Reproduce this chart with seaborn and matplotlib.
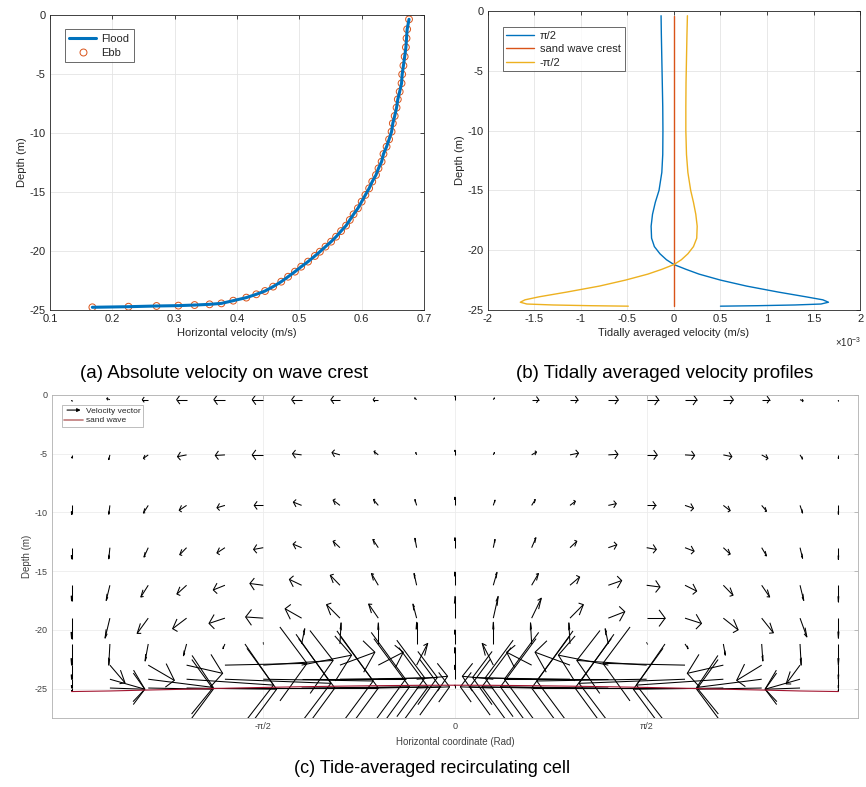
import numpy as np
import pandas as pd
import matplotlib
matplotlib.use("Agg")
import matplotlib.pyplot as plt
import seaborn as sns
from matplotlib.collections import LineCollection
from matplotlib.lines import Line2D
from matplotlib.legend_handler import HandlerBase
from matplotlib.patches import FancyArrowPatch

sns.set_theme(style="white")
plt.rcParams['font.family'] = ['Liberation Sans', 'DejaVu Sans']
plt.rcParams['mathtext.fontset'] = 'custom'
plt.rcParams['mathtext.rm'] = 'Liberation Sans'
plt.rcParams['axes.unicode_minus'] = False

# ---------------- (a) absolute velocity on wave crest ----------------
depth_a = [-0.37, -1.21, -1.98, -2.74, -3.53, -4.29, -5.03, -5.79, -6.50, -7.15,
           -7.85, -8.56, -9.18, -9.89, -10.54, -11.16, -11.78, -12.43, -13.0, -13.56,
           -14.12, -14.69, -15.25, -15.82, -16.38, -16.89, -17.37, -17.85, -18.31, -18.79,
           -19.21, -19.63, -20.06, -20.42, -20.90, -21.33, -21.75, -22.18, -22.60, -23.02,
           -23.39, -23.67, -23.95, -24.21, -24.44, -24.52, -24.58, -24.63, -24.66, -24.72, -24.77]
velocity_a = [0.676, 0.673, 0.672, 0.671, 0.669, 0.667, 0.665, 0.664, 0.661, 0.658,
              0.656, 0.653, 0.650, 0.648, 0.644, 0.640, 0.635, 0.632, 0.627, 0.623,
              0.617, 0.612, 0.606, 0.600, 0.594, 0.587, 0.581, 0.575, 0.567, 0.559,
              0.551, 0.542, 0.533, 0.525, 0.514, 0.503, 0.493, 0.482, 0.471, 0.458,
              0.445, 0.431, 0.415, 0.394, 0.375, 0.356, 0.332, 0.306, 0.271, 0.226, 0.168]
xticks_a = [0.1, 0.2, 0.3, 0.4, 0.5, 0.6, 0.7]
yticks = [-25, -20, -15, -10, -5, 0]

# ---------------- (b) tidally averaged velocity profiles (x 1e-3 m/s) ----------------
depth_b = [-0.4, -2, -4, -6, -8, -10, -12, -13.5, -15, -16, -17, -18, -19, -19.7, -20.3,
           -20.8, -21.2, -21.6, -22, -22.5, -23, -23.5, -23.9, -24.15, -24.35, -24.5,
           -24.58, -24.64, -24.68]
vel_pos_half_pi = [-0.138, -0.135, -0.13, -0.125, -0.12, -0.118, -0.12, -0.13, -0.16, -0.2,
                   -0.23, -0.245, -0.24, -0.21, -0.15, -0.08, 0.0, 0.13, 0.27, 0.5,
                   0.78, 1.12, 1.42, 1.6, 1.66, 1.58, 1.3, 0.9, 0.5]
vel_crest = [0.0] * len(depth_b)
vel_neg_half_pi = [0.145, 0.14, 0.135, 0.13, 0.128, 0.128, 0.135, 0.15, 0.18, 0.21,
                   0.235, 0.25, 0.245, 0.21, 0.15, 0.08, 0.0, -0.13, -0.28, -0.52,
                   -0.8, -1.15, -1.45, -1.6, -1.65, -1.58, -1.3, -0.9, -0.49]
xticks_b = [-2, -1.5, -1, -0.5, 0, 0.5, 1, 1.5, 2]
xticklabels_b = ['-2', '-1.5', '-1', '-0.5', '0', '0.5', '1', '1.5', '2']

# ---------------- (c) tide-averaged recirculating cell ----------------
x_cols = [-135.0, -121.5, -108.0, -94.5, -81.0, -67.5, -54.0, -40.5, -27.0, -13.5, 0.0,
          13.5, 27.0, 40.5, 54.0, 67.5, 81.0, 94.5, 108.0, 121.5, 135.0]
z_rows = [-0.4, -5.1, -9.4, -13.0, -16.2, -19.0, -21.2, -23.0, -24.2, -24.95]
U_rows = [
    [0, -1.1, -2.1, -3.5, -3.9, -3.9, -3.5, -3.2, -1.8, -0.7, 0, 0.4, 2.5, 2.8, 3.5, 4.2, 4.2, 3.5, 2.8, 1.1, 0],
    [0, -0.4, -1.7, -3.2, -3.4, -3.9, -3.2, -2.8, -1.5, -0.3, 0, 0.4, 1.7, 3.0, 3.4, 3.7, 3.4, 3.0, 2.2, 0.9, 0],
    [0, -0.4, -1.7, -2.6, -2.8, -3.2, -2.9, -2.4, -1.7, -0.6, 0, 0.6, 1.3, 1.9, 2.8, 3.2, 3.0, 2.4, 1.7, 0.9, 0],
    [0, -0.4, -1.5, -2.4, -2.8, -3.4, -3.0, -2.4, -1.9, -0.6, 0, 0.6, 1.5, 2.4, 3.0, 3.4, 3.2, 2.4, 1.7, 0.9, 0],
    [0, -1.3, -2.6, -3.4, -4.1, -4.7, -4.3, -3.4, -2.4, -0.9, 0, 1.3, 2.4, 3.4, 4.7, 4.7, 4.1, 3.4, 2.8, 1.3, 0],
    [0, -1.7, -3.9, -4.9, -5.6, -6.2, -5.8, -4.7, -3.4, -1.3, 0, 1.7, 3.4, 4.7, 5.8, 6.5, 5.8, 5.2, 4.1, 2.4, 0],
    [0, -0.4, -1.1, -1.1, -0.7, 0, 1.1, 0.4, 0, 0, 0, 0, -0.4, -0.4, -1.1, 0, 1.1, 0.7, 0.4, 0.4, 0],
    [0, 5.3, 9.2, 12.7, 28.9, 24.6, 17.6, 12.3, 8.8, 3.9, 0, -3.9, -8.8, -12.3, -17.6, -24.6, -28.9, -12.7, -8.8, -4.9, 0],
    [0, 12.3, 22.9, 30.6, 37.3, 38.7, 36.6, 29.9, 20.8, 10.9, 0, -10.9, -20.8, -29.9, -36.6, -38.7, -37.3, -30.6, -22.9, -12.3, 0],
    [0, 12.3, 22.9, 31.7, 38.7, 40.5, 38.0, 31.0, 21.8, 11.6, 0, -11.6, -21.8, -31.0, -38.0, -40.5, -38.7, -31.7, -22.9, -12.3, 0],
]
V_rows = [
    [-0.1, 0.1, 0, 0, 0, 0, 0, 0, 0, 0.15, 0.4, 0.15, 0, 0, 0, 0, 0, 0, 0, -0.1, -0.1],
    [-0.25, -0.4, -0.3, -0.15, -0.05, 0, 0.1, 0.2, 0.3, 0.2, 0.4, 0.2, 0.25, 0.15, 0.05, 0, -0.05, -0.15, -0.3, -0.35, -0.3],
    [-0.77, -0.75, -0.65, -0.42, -0.2, 0, 0.28, 0.45, 0.5, 0.5, 0.7, 0.45, 0.5, 0.35, 0.15, 0, -0.25, -0.45, -0.5, -0.65, -0.75],
    [-0.95, -0.95, -0.8, -0.6, -0.45, -0.15, 0.3, 0.55, 0.7, 0.8, 0.85, 0.7, 0.85, 0.55, 0.25, -0.15, -0.3, -0.55, -0.7, -0.9, -1.0],
    [-1.33, -1.3, -1.0, -0.75, -0.4, 0.15, 0.5, 0.85, 1.0, 1.0, 1.13, 1.1, 1.0, 0.7, 0.4, -0.15, -0.5, -0.85, -1.0, -1.3, -1.4],
    [-1.75, -1.7, -1.3, -0.9, -0.45, 0.1, 0.8, 1.15, 1.2, 1.2, 1.85, 1.85, 1.7, 1.15, 0.55, 0, -0.45, -1.0, -1.25, -1.6, -1.7],
    [-1.8, -1.8, -1.45, -1.0, -0.4, 0.1, 1.3, 1.8, 1.8, 1.85, 1.2, 1.85, 1.8, 1.8, 1.3, 0.1, -0.4, -0.95, -1.45, -1.8, -1.8],
    [-1.2, -1.5, -1.3, -0.7, 0.15, 0.4, 0.85, 1.1, 1.1, 1.85, 1.5, 1.85, 1.1, 1.1, 0.85, 0.4, 0.15, -0.7, -1.3, -1.6, -1.2],
    [-0.75, -0.85, -0.7, -0.5, -0.35, -0.15, 0, 0.1, 0.15, 0.25, 1.2, 0.25, 0.15, 0.1, 0, -0.15, -0.35, -0.5, -0.7, -0.85, -0.75],
    [-0.25, -0.1, -0.1, -0.1, 0, 0, 0.1, 0.1, 0.1, 0.1, 0.25, 0.1, 0.1, 0.1, 0.1, 0, 0, -0.1, -0.1, -0.1, -0.25],
]
bed_depth = [-25.25, -25.2, -25.12, -25.05, -24.97, -24.9, -24.84, -24.79, -24.75, -24.72, -24.71,
             -24.72, -24.75, -24.79, -24.84, -24.9, -24.97, -25.05, -25.12, -25.2, -25.25]
xticks_c = [-67.5, 0, 67.5]
xticklabels_c = ['-π/2', '0', 'π/2']

C_BLUE, C_ORANGE, C_YELLOW, C_RED = '#0072BD', '#D95319', '#EDB120', '#A2142F'
TXT = '#262626'


def matlab_style(ax, edge='#262626', fs=8, grid='#e4e4e4'):
    for sp in ax.spines.values():
        sp.set_visible(True)
        sp.set_color(edge)
        sp.set_linewidth(0.6)
    ax.grid(True, color=grid, lw=0.6)
    ax.set_axisbelow(True)
    ax.tick_params(direction='in', length=3, width=0.6, top=True, right=True,
                   color=edge, labelcolor=TXT, labelsize=fs, pad=3)


fig = plt.figure(figsize=(8.66, 7.87), dpi=100)
fig.patch.set_facecolor('white')

# ---- panel (a)
ax_a = fig.add_axes([0.0577, 0.6061, 0.4319, 0.3749])
sns.lineplot(x=velocity_a, y=depth_a, sort=False, estimator=None, color=C_BLUE,
             lw=2.2, ax=ax_a)
sns.scatterplot(x=velocity_a, y=depth_a, marker='o', facecolor='none',
                edgecolor=C_ORANGE, s=24, linewidth=0.7, ax=ax_a)
ax_a.set_xlim(0.1, 0.7)
ax_a.set_ylim(-25, 0)
ax_a.set_xticks(xticks_a)
ax_a.set_xticklabels([f'{t:g}' for t in xticks_a])
ax_a.set_yticks(yticks)
ax_a.set_yticklabels([f'{t:g}' for t in yticks])
matlab_style(ax_a)
ax_a.set_xlabel('Horizontal velocity (m/s)', fontsize=8, color=TXT, labelpad=3)
ax_a.set_ylabel('Depth (m)', fontsize=8, color=TXT, labelpad=2)
h_a = [Line2D([], [], color=C_BLUE, lw=2.2),
       Line2D([], [], color=C_ORANGE, marker='o', mfc='none', ls='none', ms=5, mew=0.7)]
leg = ax_a.legend(h_a, ['Flood', 'Ebb'], loc='upper left', bbox_to_anchor=(0.025, 0.97),
                  fontsize=8, frameon=True, fancybox=False, borderpad=0.4,
                  handlelength=2.4, labelspacing=0.35, handletextpad=0.5)
leg.get_frame().set_edgecolor('#262626')
leg.get_frame().set_linewidth(0.6)

# ---- panel (b)
ax_b = fig.add_axes([0.5632, 0.6061, 0.4300, 0.3800])
scale = 1e-3
sns.lineplot(x=np.array(vel_pos_half_pi) * scale, y=depth_b, sort=False, estimator=None,
             color=C_BLUE, lw=1.0, ax=ax_b)
sns.lineplot(x=np.array(vel_crest) * scale, y=depth_b, sort=False, estimator=None,
             color=C_ORANGE, lw=1.0, ax=ax_b)
sns.lineplot(x=np.array(vel_neg_half_pi) * scale, y=depth_b, sort=False, estimator=None,
             color=C_YELLOW, lw=1.0, ax=ax_b)
ax_b.set_xlim(-2e-3, 2e-3)
ax_b.set_ylim(-25, 0)
ax_b.set_xticks(np.array(xticks_b) * scale)
ax_b.set_xticklabels(xticklabels_b)
ax_b.set_yticks(yticks)
ax_b.set_yticklabels([f'{t:g}' for t in yticks])
matlab_style(ax_b)
ax_b.text(1.003, -0.085, r'$\times10^{-3}$', transform=ax_b.transAxes, ha='right', va='top',
          fontsize=7, color=TXT)
ax_b.set_xlabel('Tidally averaged velocity (m/s)', fontsize=8, color=TXT, labelpad=3)
ax_b.set_ylabel('Depth (m)', fontsize=8, color=TXT, labelpad=2)
h_b = [Line2D([], [], color=C_BLUE, lw=1.0), Line2D([], [], color=C_ORANGE, lw=1.0),
       Line2D([], [], color=C_YELLOW, lw=1.0)]
leg = ax_b.legend(h_b, ['π/2', 'sand wave crest', '-π/2'], loc='upper left',
                  bbox_to_anchor=(0.025, 0.965), fontsize=8, frameon=True, fancybox=False,
                  borderpad=0.35, handlelength=2.5, labelspacing=0.3, handletextpad=0.5)
leg.get_frame().set_edgecolor('#262626')
leg.get_frame().set_linewidth(0.6)

# ---- panel (c)
ax_c = fig.add_axes([0.0600, 0.0877, 0.9304, 0.4104])
alpha, beta = 0.33, 0.33
segs = []
for zi, z in enumerate(z_rows):
    for xi, x in enumerate(x_cols):
        u = U_rows[zi][xi]
        v = V_rows[zi][xi]
        if abs(u) < 1e-9 and abs(v) < 1e-9:
            continue
        tx, ty = x + u, z + v
        segs.append([(x, z), (tx, ty)])
        w1 = (tx - alpha * (u + beta * v), ty - alpha * (v - beta * u))
        w2 = (tx - alpha * (u - beta * v), ty - alpha * (v + beta * u))
        segs.append([w1, (tx, ty), w2])
ax_c.add_collection(LineCollection(segs, colors='black', linewidths=0.75))
sns.lineplot(x=x_cols, y=bed_depth, sort=False, estimator=None, color=C_RED, lw=0.8, ax=ax_c)
ax_c.set_xlim(-141.9, 141.8)
ax_c.set_ylim(-27.5, 0)
ax_c.set_xticks(xticks_c)
ax_c.set_xticklabels(xticklabels_c)
ax_c.set_yticks(yticks)
ax_c.set_yticklabels([f'{t:g}' for t in yticks])
matlab_style(ax_c, edge='#b0b0b0', fs=6.5, grid='#ececec')
ax_c.tick_params(labelcolor='#404040')
ax_c.set_xlabel('Horizontal coordinate (Rad)', fontsize=7, color='#404040', labelpad=4)
ax_c.set_ylabel('Depth (m)', fontsize=7, color='#404040', labelpad=2)


class ArrowHandler(HandlerBase):
    def create_artists(self, legend, orig_handle, xdescent, ydescent, width, height,
                       fontsize, trans):
        y = height / 2 - ydescent
        a = FancyArrowPatch((-xdescent, y), (-xdescent + width, y), arrowstyle='-|>',
                            mutation_scale=5, lw=0.8, color='black', transform=trans)
        return [a]


arrow_h = Line2D([], [], color='black')
h_c = [arrow_h, Line2D([], [], color='#c07a7a', lw=1.2)]
leg = ax_c.legend(h_c, ['Velocity vector', 'sand wave'], loc='upper left',
                  bbox_to_anchor=(0.007, 0.983), fontsize=6, frameon=True, fancybox=False,
                  borderpad=0.3, handlelength=2.3, labelspacing=0.2, handletextpad=0.3,
                  handler_map={arrow_h: ArrowHandler()})
leg.get_frame().set_edgecolor('#a0a0a0')
leg.get_frame().set_linewidth(0.6)

# ---- captions
fig.text(0.2587, 0.5248, '(a) Absolute velocity on wave crest', ha='center', va='center',
         fontsize=13.5, color='black')
fig.text(0.768, 0.5248, '(b) Tidally averaged velocity profiles', ha='center', va='center',
         fontsize=13.5, color='black')
fig.text(0.4993, 0.0241, '(c) Tide-averaged recirculating cell', ha='center', va='center',
         fontsize=13, color='black')

fig.savefig('out.png', dpi=100, facecolor='white')
